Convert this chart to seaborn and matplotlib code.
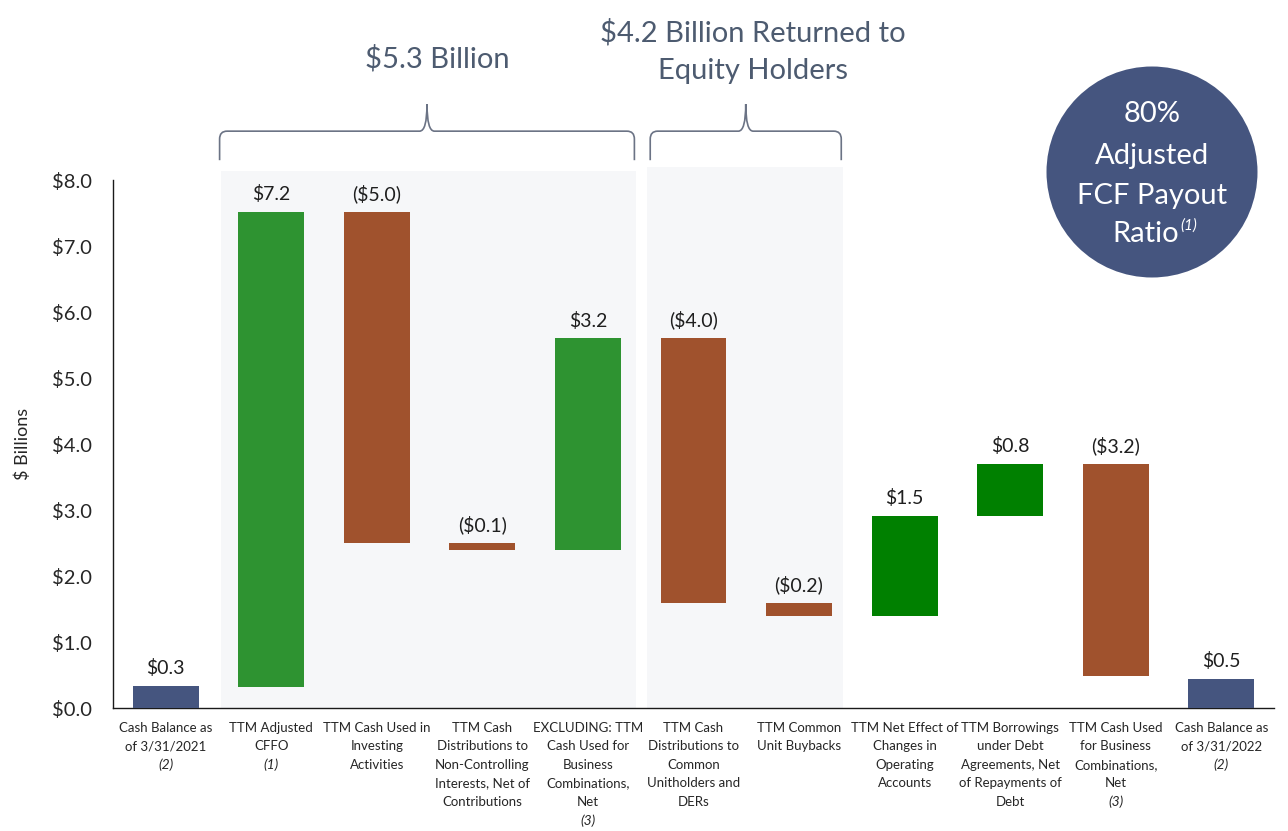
import numpy as np
import pandas as pd
import matplotlib.pyplot as plt
import seaborn as sns
from matplotlib.patches import Rectangle, Ellipse, PathPatch
from matplotlib.path import Path

# --- data ($ billions) ---
categories = [
    "Cash Balance as\nof 3/31/2021",
    "TTM Adjusted\nCFFO",
    "TTM Cash Used in\nInvesting\nActivities",
    "TTM Cash\nDistributions to\nNon-Controlling\nInterests, Net of\nContributions",
    "EXCLUDING: TTM\nCash Used for\nBusiness\nCombinations,\nNet",
    "TTM Cash\nDistributions to\nCommon\nUnitholders and\nDERs",
    "TTM Common\nUnit Buybacks",
    "TTM Net Effect of\nChanges in\nOperating\nAccounts",
    "TTM Borrowings\nunder Debt\nAgreements, Net\nof Repayments of\nDebt",
    "TTM Cash Used\nfor Business\nCombinations,\nNet",
    "Cash Balance as\nof 3/31/2022",
]
notes = ["(2)", "(1)", "", "", "(3)", "", "", "", "", "(3)", "(2)"]
bar_low = [0.00, 0.32, 2.50, 2.39, 2.39, 1.59, 1.39, 1.39, 2.91, 0.49, 0.00]
bar_high = [0.33, 7.52, 7.52, 2.50, 5.60, 5.60, 1.59, 2.91, 3.70, 3.70, 0.44]
value_labels = ["$0.3", "$7.2", "($5.0)", "($0.1)", "$3.2", "($4.0)",
                "($0.2)", "$1.5", "$0.8", "($3.2)", "$0.5"]
bar_kind = ["balance", "inflow", "outflow", "outflow", "inflow", "outflow",
            "outflow", "other", "other", "outflow", "balance"]

colores = {
    "balance": "#45557F",
    "inflow": "#2E9331",
    "outflow": "#A0522D",
    "other": "#008000",
}

W, H = 1288, 831


def fx(px):
    return px / W


def fy(py):
    return 1 - py / H


sns.set_style("white")
plt.rcParams["font.family"] = ["Lato", "DejaVu Sans"]

fig = plt.figure(figsize=(W / 100, H / 100), dpi=100)
ax = fig.add_axes([fx(113), fy(708), fx(1274) - fx(113), fy(180) - fy(708)])

df = pd.DataFrame({
    "paso": categories,
    "alto": np.array(bar_high) - np.array(bar_low),
    "base": bar_low,
})

sns.barplot(
    data=df, x="paso", y="alto", order=categories,
    bottom=df["base"].to_numpy(), width=0.625,
    color="grey", errorbar=None, ax=ax,
)
barras = list(ax.patches)
for barra, tipo in zip(barras, bar_kind):
    barra.set_facecolor(colores[tipo])
    barra.set_edgecolor("none")
    barra.set_zorder(3)

# shaded groups behind the bars
ax.add_patch(Rectangle((0.52, 0), 4.455 - 0.52, 8.14, facecolor="#F6F7F9",
                       edgecolor="none", zorder=0.5, clip_on=False))
ax.add_patch(Rectangle((4.56, 0), 6.42 - 4.56, 8.20, facecolor="#F6F7F9",
                       edgecolor="none", zorder=0.5, clip_on=False))

# value labels
for i, (txt, top) in enumerate(zip(value_labels, bar_high)):
    ax.annotate(txt, (i, top), xytext=(0, 8.5), textcoords="offset points",
                ha="center", va="baseline", fontsize=14, color="#1F1F1F")

# axes styling
ax.set_xlim(-0.5, 10.5)
ax.set_ylim(0, 8)
ax.set_yticks(np.arange(0, 9, 1))
ax.set_yticklabels([f"${v:.1f}" for v in np.arange(0, 9, 1)],
                   fontsize=14.5, color="#262626")
ax.set_xticks(np.arange(-0.5, 11, 1))
ax.set_xticklabels([])
ax.tick_params(axis="x", length=5, width=1, color="#333333", direction="out")
ax.tick_params(axis="y", length=5, width=1, color="#333333", direction="out", pad=10)
ax.set_xlabel("")
ax.set_ylabel("$ Billions", fontsize=13, color="#262626")
ax.yaxis.set_label_coords(-0.0706, 0.5)
sns.despine(ax=ax)
for lado in ["left", "bottom"]:
    ax.spines[lado].set_color("#1A1A1A")
    ax.spines[lado].set_linewidth(1)

# category labels, one line at a time
for i, (cat, nota) in enumerate(zip(categories, notes)):
    lineas = cat.split("\n")
    for k, linea in enumerate(lineas):
        ax.annotate(linea, (i, 0), xycoords=("data", "axes fraction"),
                    xytext=(0, -14.4 - 13.3 * k), textcoords="offset points",
                    ha="center", va="center", fontsize=9.5, color="#262626")
    if nota:
        ax.annotate(nota, (i, 0), xycoords=("data", "axes fraction"),
                    xytext=(0, -14.4 - 13.3 * len(lineas)), textcoords="offset points",
                    ha="center", va="center", fontsize=10, style="italic",
                    color="#262626")


# curly braces above the groups
def llave(x_izq, x_der, y_fin=8.30, y_med=8.74, y_pico=9.15, dx=0.07):
    xc = (x_izq + x_der) / 2
    verts = [
        (x_izq, y_fin), (x_izq, y_med - 0.12), (x_izq, y_med), (x_izq + dx, y_med),
        (xc - dx, y_med), (xc, y_med), (xc, y_pico),
        (xc, y_med), (xc + dx, y_med),
        (x_der - dx, y_med), (x_der, y_med), (x_der, y_med - 0.12), (x_der, y_fin),
    ]
    codes = [Path.MOVETO, Path.LINETO, Path.CURVE3, Path.CURVE3,
             Path.LINETO, Path.CURVE3, Path.CURVE3,
             Path.CURVE3, Path.CURVE3,
             Path.LINETO, Path.CURVE3, Path.CURVE3, Path.LINETO]
    ax.add_patch(PathPatch(Path(verts, codes), facecolor="none",
                           edgecolor="#6B7385", lw=1.2, clip_on=False, zorder=4))


llave(0.51, 4.44)
llave(4.59, 6.40)

color_titulo = "#4D5B70"
fig.text(fx(437), fy(59), "$5.3 Billion", ha="center", va="center",
         fontsize=21, color=color_titulo)
fig.text(fx(753), fy(33), "$4.2 Billion Returned to", ha="center", va="center",
         fontsize=21, color=color_titulo)
fig.text(fx(753), fy(71), "Equity Holders", ha="center", va="center",
         fontsize=21, color=color_titulo)

# payout ratio bubble
fig.add_artist(Ellipse((fx(1152), fy(172)), 211 / W, 211 / H,
                       facecolor="#45557F", edgecolor="none"))
for texto, py in [("80%", 114), ("Adjusted", 156), ("FCF Payout", 196)]:
    fig.text(fx(1152), fy(py), texto, ha="center", va="center",
             fontsize=21, color="white")
fig.text(fx(1179), fy(234), "Ratio", ha="right", va="center",
         fontsize=21, color="white")
fig.text(fx(1180), fy(226), "(1)", ha="left", va="center",
         fontsize=11, style="italic", color="white")

fig.savefig("out.png", dpi=100)
